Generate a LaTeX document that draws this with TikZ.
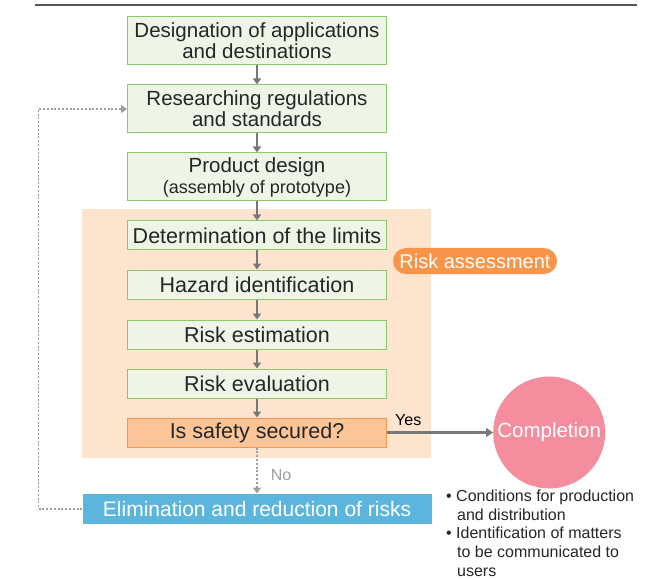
\documentclass[tikz,border=0pt]{standalone}
\usepackage{fontspec}
\setmainfont{Liberation Sans}
\usetikzlibrary{positioning,arrows.meta,backgrounds}

\definecolor{boxfill}{HTML}{EEF5E6}
\definecolor{boxline}{HTML}{8DC96B}
\definecolor{assessbg}{HTML}{FDE4CF}
\definecolor{safefill}{HTML}{FBC597}
\definecolor{safeline}{HTML}{F7954A}
\definecolor{pillcol}{HTML}{F7954A}
\definecolor{elimcol}{HTML}{5BB5DC}
\definecolor{donecol}{HTML}{F48D9D}
\definecolor{arrowgray}{HTML}{777777}
\definecolor{dotgray}{HTML}{9E9E9E}
\definecolor{rulegray}{HTML}{555555}

\begin{document}
\begin{tikzpicture}[
    proc/.style={draw=boxline, fill=boxfill, line width=1pt, minimum width=259pt, minimum height=29pt,
                 inner sep=1pt, align=center, text=black!85, font=\fontsize{21.5}{22}\selectfont},
    tall/.style={minimum height=48pt, font=\fontsize{20.5}{21}\selectfont},
    pill/.style={fill=pillcol, rounded corners=13pt, minimum width=164pt, minimum height=26pt,
                 inner sep=1pt, text=white, font=\fontsize{20}{20}\selectfont},
    elim/.style={fill=elimcol, minimum width=349pt, minimum height=30pt, inner sep=1pt,
                 text=white, font=\fontsize{21}{22}\selectfont},
    done/.style={circle, fill=donecol, minimum size=112pt, inner sep=0pt,
                 text=white, font=\fontsize{20.5}{22}\selectfont},
    notes/.style={align=left, inner sep=0pt, text=black!85, font=\fontsize{16}{18.6}\selectfont},
    flow/.style={-{Triangle[length=6pt,width=8pt]}, draw=arrowgray, line width=1.5pt},
    yes/.style={-{Triangle[length=7pt,width=9pt]}, draw=arrowgray, line width=3pt},
    back/.style={-{Triangle[length=6pt,width=8pt]}, draw=dotgray, line width=1.6pt,
                 dash pattern=on 2pt off 1.8pt},
    lbl/.style={inner sep=1pt, font=\fontsize{16}{18}\selectfont}
]
    \useasboundingbox (0,0) rectangle (672pt,-580pt);
    \draw[rulegray, line width=1.8pt] (35pt,-5pt) -- (637pt,-5pt);

    % main flow
    \node[proc,tall] (design) at (257pt,-41pt) {Designation of applications\\and destinations};
    \node[proc,tall,below=19pt of design] (regs) {Researching regulations\\and standards};
    \node[proc,tall,below=19pt of regs] (product) {Product design\\{\fontsize{18}{19}\selectfont(assembly of prototype)}};
    \node[proc,below=19pt of product] (limits) {Determination of the limits};
    \node[proc,below=19pt of limits] (hazard) {Hazard identification};
    \node[proc,below=20pt of hazard] (estim) {Risk estimation};
    \node[proc,below=19pt of estim] (evalu) {Risk evaluation};
    \node[proc,draw=safeline,fill=safefill,below=19pt of evalu] (safe) {Is safety secured?};

    % risk assessment block behind the boxes
    \begin{scope}[on background layer]
        \fill[assessbg] ([xshift=-45pt,yshift=11pt]limits.north west) rectangle ([xshift=44pt,yshift=-10pt]safe.south east);
    \end{scope}
    \node[pill] (assess) at (475pt,-261pt) {Risk assessment};

    \draw[flow] (design) -- (regs);
    \draw[flow] (regs) -- (product);
    \draw[flow] (product) -- (limits);
    \draw[flow] (limits) -- (hazard);
    \draw[flow] (hazard) -- (estim);
    \draw[flow] (estim) -- (evalu);
    \draw[flow] (evalu) -- (safe);

    % outcome of the check
    \node[done,right=106pt of safe] (complete) {Completion};
    \draw[yes] (safe) -- (complete) node[lbl,pos=0.2,above=4pt] (yeslbl) {Yes};

    \node[elim,below=46pt of safe] (reduce) {Elimination and reduction of risks};
    \draw[back] (safe) -- (reduce) node[lbl,midway,right=12pt,yshift=-5pt,text=dotgray] (nolbl) {No};
    \draw[back] (reduce.west) -- ++(-44pt,0) |- (regs.west);

    \node[notes,anchor=north west] (results) at (446pt,-490pt) {%
        \textbullet\ Conditions for production\\
        \hspace*{11pt}and distribution\\
        \textbullet\ Identification of matters\\
        \hspace*{11pt}to be communicated to\\
        \hspace*{11pt}users};
\end{tikzpicture}
\end{document}
